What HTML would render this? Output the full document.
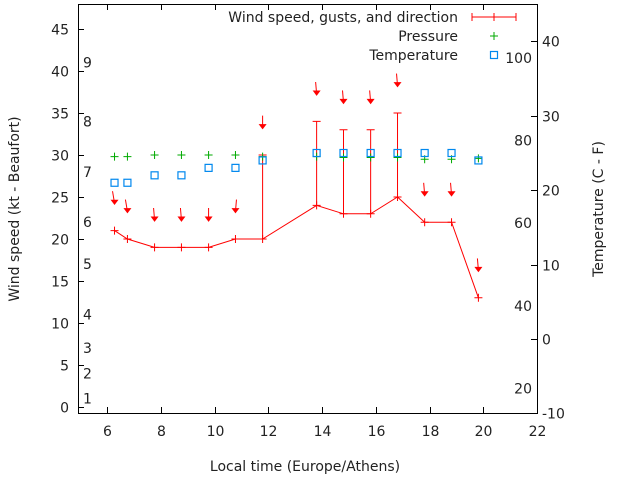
<!DOCTYPE html>
<html><head><meta charset="utf-8"><style>
body{margin:0;background:#fff}
svg{display:block;font-family:"DejaVu Sans","Liberation Sans",sans-serif;font-size:14px}
</style></head><body>
<svg id="c" width="640" height="480"></svg>
<script>
const times=[6.28,6.76,7.77,8.77,9.78,10.78,11.79,13.8,14.8,15.81,16.81,17.82,18.82,19.82];
const wind=[21,20,19,19,19,20,20,24,23,23,25,22,22,13];
const gusts=[null,null,null,null,null,null,30,34,33,33,35,null,null,null];
const arrowLevel=[24.5,23.5,22.5,22.5,22.5,23.5,33.5,37.5,36.5,36.5,38.5,25.5,25.5,16.5];
const arrowTilt=[2,2,1,1,0,-1,0,1,1,1,1,1,1,1];
const pressure=[29.8,29.8,30,30,30,30,29.8,29.8,29.7,29.7,29.7,29.5,29.5,29.6];
const temperature=[21,21,22,22,23,23,24,25,25,25,25,25,25,24];
const xTicks=[6,8,10,12,14,16,18,20,22];
const yTicks=[0,5,10,15,20,25,30,35,40,45];
const y2Ticks=[-10,0,10,20,30,40];
const beaufort=[[1,1],[2,4],[3,7],[4,11],[5,17],[6,22],[7,28],[8,34],[9,41]];
const fahr=[[20,-6.67],[40,4.44],[60,15.56],[80,26.67],[100,37.78]];
const L=78,R=537,T=4,B=413;
const X=v=>107+(v-6)*26.875;
const Y=v=>407-v*8.4;
const Y2=v=>339-v*7.44;
const s=document.getElementById('c');
function el(t,a,txt){const e=document.createElementNS('http://www.w3.org/2000/svg',t);for(const k in a)e.setAttribute(k,a[k]);if(txt!=null)e.textContent=txt;s.appendChild(e);return e;}
let e;
e=el('rect',{x:L+0.5,y:T+0.5,width:R-L,height:B-T,fill:'none',stroke:'#000'});


xTicks.forEach(v=>{const x=Math.round(X(v))+0.5;
 el('line',{x1:x,x2:x,y1:B,y2:B-6,stroke:'#000'});el('line',{x1:x,x2:x,y1:T,y2:T+6,stroke:'#000'});
 e=el('text',{x:x,y:B+23,'text-anchor':'middle',fill:'#222'},v);
 
 });
yTicks.forEach(v=>{const y=Math.round(Y(v))+0.5;
 el('line',{x1:L,x2:L+6,y1:y,y2:y,stroke:'#000'});
 e=el('text',{x:69,y:y+5,'text-anchor':'end',fill:'#222'},v);
 
 });
y2Ticks.forEach(v=>{const y=Math.round(Y2(v))+0.5;
 el('line',{x1:R,x2:R-6,y1:y,y2:y,stroke:'#000'});
 e=el('text',{x:542,y:y+5,fill:'#222'},v);
 
 });
beaufort.forEach(b=>{e=el('text',{x:83,y:Y(b[1])+5,fill:'#222'},b[0]);
 
 });
fahr.forEach(f=>{e=el('text',{x:532,y:Y2(f[1])+5,'text-anchor':'end',fill:'#222'},f[0]);
 
 });
e=el('text',{x:305,y:471,'text-anchor':'middle',fill:'#222'},'Local time (Europe/Athens)');


e=el('text',{x:19,y:209,'text-anchor':'middle',fill:'#222',transform:'rotate(-90 19 209)'},'Wind speed (kt - Beaufort)');


e=el('text',{x:603,y:209,'text-anchor':'middle',fill:'#222',transform:'rotate(-90 603 209)'},'Temperature (C - F)');


e=el('polyline',{points:times.map((t,i)=>X(t)+','+Y(wind[i])).join(' '),fill:'none',stroke:'#f00'});


times.forEach((t,i)=>{const x=X(t),y=Y(wind[i]);
 e=el('path',{d:`M${x-4},${y}h8M${x},${y-4}v8`,stroke:'#f00'});
 
 
 if(gusts[i]!=null){const g=Y(gusts[i]);
  e=el('path',{d:`M${x},${y}V${g}M${x-4},${g}h8`,stroke:'#f00'});
  
  }
 const ay=Y(arrowLevel[i]),tl=arrowTilt[i];
 e=el('path',{d:`M${x-tl},${ay-10}L${x},${ay+2}M${x-3},${ay-1}L${x},${ay+3}L${x+3},${ay-1}Z`,stroke:'#f00',fill:'#f00','stroke-width':1});
 
 
 const py=Y(pressure[i]);
 e=el('path',{d:`M${x-4},${py}h8M${x},${py-4}v8`,stroke:'#0a0'});
 
 
 const ty=Y2(temperature[i]);
 e=el('rect',{x:x-3.5,y:ty-3.5,width:7,height:7,fill:'none',stroke:'#08e','stroke-width':1.2});
 
 
});
e=el('text',{x:458,y:22,'text-anchor':'end',fill:'#222'},'Wind speed, gusts, and direction');


el('path',{d:'M472,17h44M472,13v8M494,13v8M516,13v8',stroke:'#f00'});
e=el('text',{x:458,y:41,'text-anchor':'end',fill:'#222'},'Pressure');


el('path',{d:'M490,36h8M494,32v8',stroke:'#0a0'});
e=el('text',{x:458,y:60,'text-anchor':'end',fill:'#222'},'Temperature');


el('rect',{x:490.5,y:51.5,width:7,height:7,fill:'none',stroke:'#08e','stroke-width':1.2});
</script>
</body></html>
